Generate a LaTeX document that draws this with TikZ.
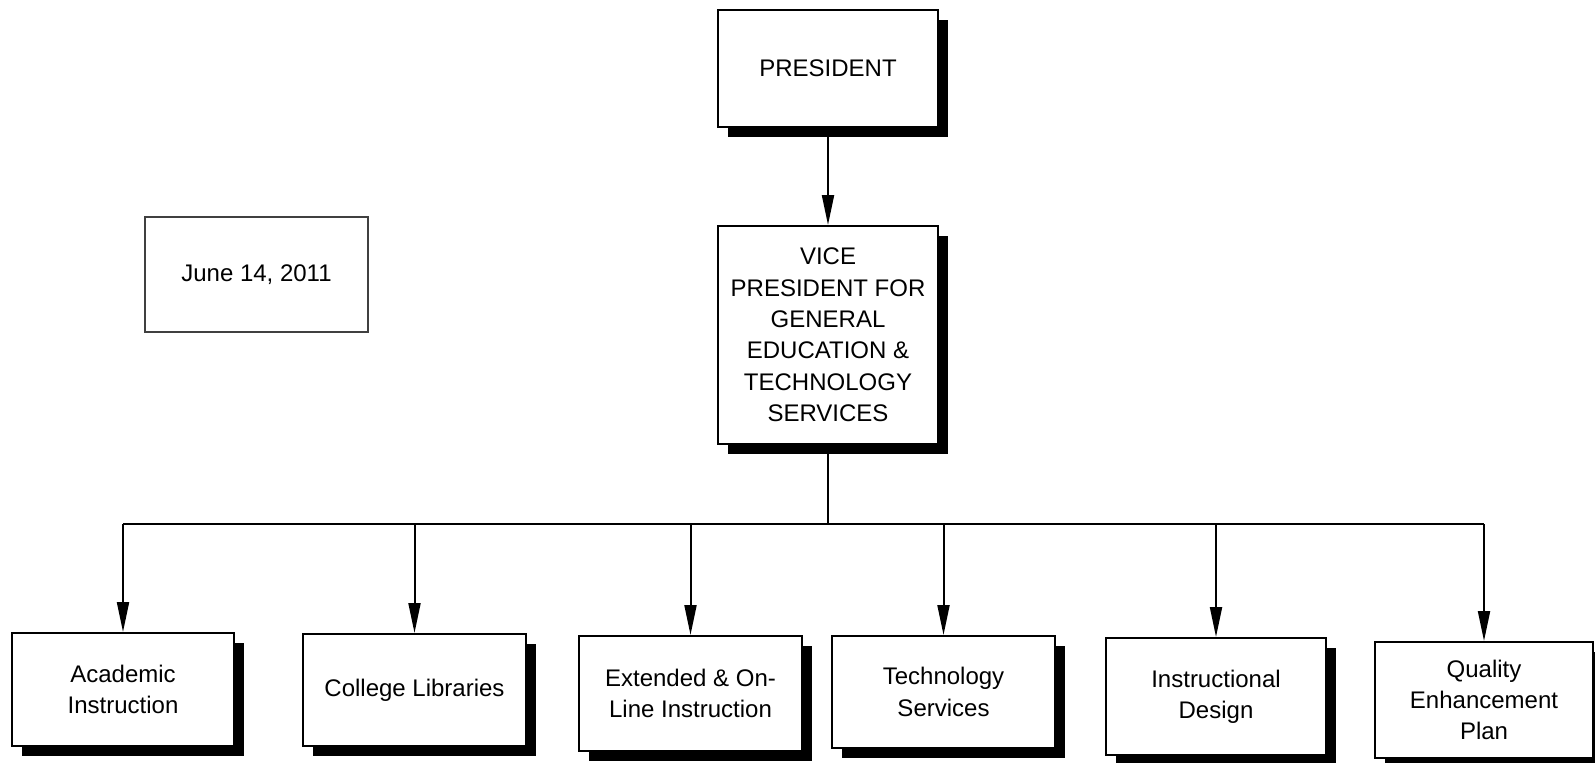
\documentclass[tikz,border=0pt]{standalone}
\usepackage{fontspec}
\setmainfont{Liberation Sans}
\usetikzlibrary{arrows.meta,shadows}
\tikzset{
  box/.style={draw=black, line width=1pt, fill=white, align=center, inner sep=2pt,
    font=\fontsize{12pt}{15.7pt}\selectfont,
    drop shadow={shadow xshift=5pt, shadow yshift=-5pt, fill=black, opacity=1}},
  datebox/.style={draw=black!75, line width=0.6pt, fill=white, align=center,
    font=\fontsize{12pt}{15.7pt}\selectfont},
  conn/.style={line width=1pt, draw=black},
  arr/.style={conn, -{Triangle[length=15pt,width=6pt]}}
}
\begin{document}
\begin{tikzpicture}[x=0.5pt,y=-0.5pt]
\useasboundingbox (0,0) rectangle (1595,762);
\clip (0,0) rectangle (1595,762);
\node[box, minimum width=110pt, minimum height=58.5pt] (pres) at (828,68.5) {PRESIDENT};
\node[box, minimum width=110pt, minimum height=109pt] (vp) at (828,335) {VICE\\PRESIDENT FOR\\GENERAL\\EDUCATION \&\\TECHNOLOGY\\SERVICES};
\node[datebox, minimum width=111.5pt, minimum height=57.5pt] (date) at (256.5,274.5) {June 14, 2011};
\node[box, minimum width=111pt, minimum height=56.5pt] (acad) at (123,689.5) {Academic\\Instruction};
\node[box, minimum width=111.5pt, minimum height=56pt] (coll) at (414.5,690) {College Libraries};
\node[box, minimum width=111.5pt, minimum height=57.5pt] (ext) at (690.5,693.5) {Extended \& On-\\Line Instruction};
\node[box, minimum width=111.5pt, minimum height=56pt] (tech) at (943.5,692) {Technology\\Services};
\node[box, minimum width=110pt, minimum height=58.5pt] (instr) at (1216,696.5) {Instructional\\Design};
\node[box, minimum width=109pt, minimum height=58pt] (qual) at (1484,700) {Quality\\Enhancement\\Plan};
\draw[arr] (pres.south) -- (vp.north);
\coordinate (bus) at (828,524);
\draw[conn] (vp.south) -- (bus);
\draw[conn] (bus -| acad.north) -- (bus -| qual.north);
\foreach \n in {acad,coll,ext,tech,instr,qual}
  \draw[arr] (bus -| \n.north) -- (\n.north);
\end{tikzpicture}
\end{document}
